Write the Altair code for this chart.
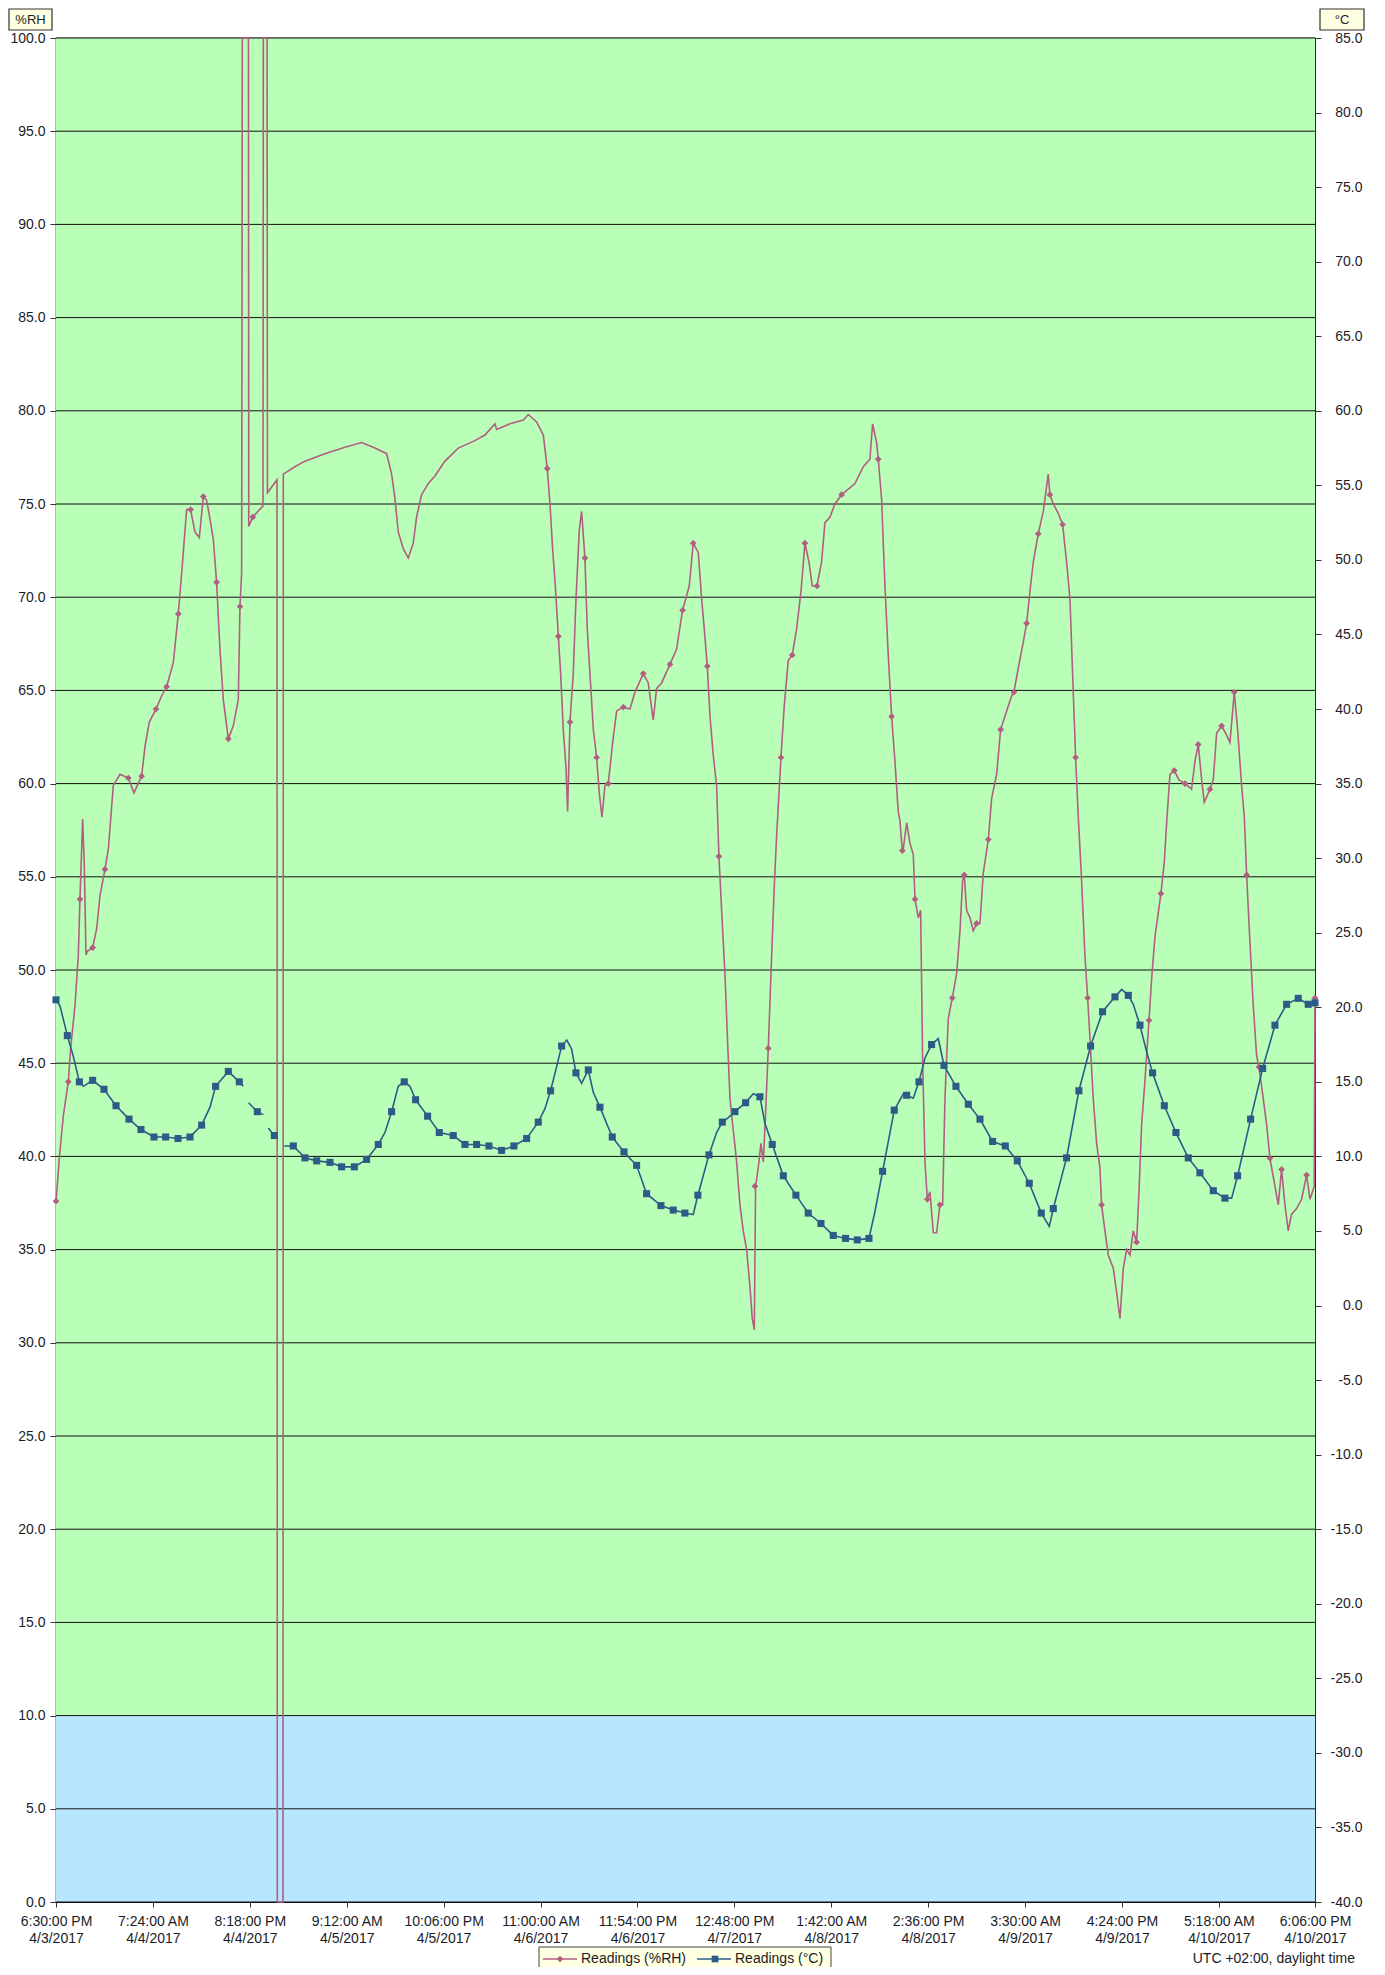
import json
import altair as alt
import pandas as pd

# ---------------- data (hours since 6:30 PM 4/3/2017) ----------------
rh_t = [0.0, 0.18, 0.44, 0.98, 1.64, 1.95, 2.53, 2.97, 3.19, 3.55, 3.77, 3.99, 4.17, 4.88, 5.41, 5.86,
        6.52, 6.97, 7.28, 7.63, 8.52, 9.63, 10.38, 11.40, 11.85, 12.42, 13.31, 14.06, 14.73, 15.62,
        16.28, 16.73, 17.39, 17.92, 18.50, 19.08, 19.61, 20.05, 20.50, 20.94, 21.38, 21.83, 22.27,
        22.94, 23.60, 24.27, 24.49, 24.71, 24.76, 24.80, 25.62, 25.66, 26.20, 27.56, 27.60, 28.10,
        28.15, 29.42, 29.46, 30.22, 30.26, 31.8, 33.14, 35.80, 38.47, 40.68, 42.46, 44.01, 44.68,
        45.12, 45.56, 46.23, 46.90, 47.56, 48.00, 48.67, 49.56, 50.44, 51.78, 53.55, 55.77, 57.10,
        58.43, 58.66, 60.43, 62.21, 62.87, 63.98, 64.87, 65.40, 65.76, 66.11, 66.47, 66.87, 67.18,
        67.53, 67.89, 68.11, 68.42, 68.86, 69.22, 69.66, 69.97, 70.41, 70.72, 71.08, 71.53, 71.97,
        72.32, 72.68, 73.08, 73.52, 74.10, 74.63, 75.52, 76.40, 77.07, 78.18, 78.84, 79.51, 79.95,
        80.62, 81.73, 82.61, 83.41, 84.30, 84.83, 85.50, 85.95, 86.30, 86.70, 87.06, 87.50, 87.94,
        88.25, 88.61, 89.05, 89.41, 89.72, 90.16, 90.61, 91.05, 91.49, 91.94, 92.38, 92.69, 92.96,
        93.13, 93.49, 93.84, 94.16, 94.47, 94.82, 95.18, 95.62, 95.93, 96.51, 96.95, 97.48, 98.01,
        98.59, 99.17, 99.70, 100.23, 100.68, 101.30, 101.92, 102.36, 103.03, 103.69, 104.58, 105.47,
        106.36, 107.47, 108.35, 108.71, 109.24, 109.46, 109.90, 110.35, 110.79, 111.24, 111.68,
        112.12, 112.35, 112.66, 112.79, 113.24, 113.68, 114.12, 114.35, 114.79, 115.10, 115.37,
        115.68, 115.99, 116.34, 116.79, 117.23, 117.67, 118.03, 118.34, 118.78, 119.32, 119.89,
        120.34, 120.69, 120.91, 121.22, 121.67, 122.11, 122.55, 123.00, 123.44, 124.11, 124.55,
        125.22, 125.75, 126.55, 127.21, 127.52, 128.10, 128.77, 129.21, 129.65, 130.10, 130.76,
        131.43, 132.09, 132.31, 132.76, 133.42, 134.00, 134.53, 134.98, 135.42, 135.73, 136.09,
        136.53, 136.97, 137.33, 137.64, 138.08, 138.53, 138.97, 139.19, 139.64, 140.08, 140.75,
        141.19, 141.64, 142.08, 142.52, 142.97, 143.41, 143.85, 144.17, 144.52, 144.97, 145.50,
        145.85, 146.30, 147.09, 147.54, 147.85, 148.29, 148.87, 149.49, 150.29, 151.17, 151.62,
        152.06, 152.51, 152.86, 153.62, 154.06, 154.50, 155.17, 155.83, 156.28, 156.85, 157.30,
        157.83, 158.19, 158.50, 158.94, 159.38, 159.83, 160.14, 160.71, 161.16, 161.60, 162.27,
        162.71, 163.15, 163.60, 164.04, 164.48, 165.15, 165.82, 166.48, 166.93, 167.50, 167.6]
rh_v = [37.6, 38.5, 39.9, 42.2, 44.0, 45.8, 48.1, 50.8, 53.8, 58.1, 55.6, 50.8, 51.0, 51.2, 52.2, 54.0,
        55.4, 56.5, 58.1, 59.9, 60.5, 60.3, 59.5, 60.4, 62.0, 63.3, 64.0, 64.7, 65.2, 66.5,
        69.1, 71.3, 74.7, 74.7, 73.5, 73.2, 75.4, 75.2, 74.2, 73.1, 70.8, 67.2, 64.5,
        62.4, 63.1, 64.5, 69.5, 71.3, 85.0, 100.0, 100.0, 73.8, 74.3, 74.9, 100.0, 100.0,
        75.6, 76.3, 0.0, 0.0, 76.6, 77.0, 77.3, 77.7, 78.05, 78.3, 78.0, 77.7, 76.6,
        75.3, 73.5, 72.6, 72.1, 72.9, 74.3, 75.5, 76.1, 76.5, 77.3, 78.0, 78.4, 78.7,
        79.3, 79.0, 79.3, 79.5, 79.8, 79.4, 78.7, 76.9, 75.0, 72.6, 70.6, 67.9, 65.9,
        62.9, 60.9, 58.5, 63.3, 65.9, 69.9, 73.6, 74.6, 72.1, 68.3, 65.9, 62.9, 61.4,
        59.5, 58.2, 59.9, 60.0, 62.2, 63.9, 64.1, 64.0, 64.9, 65.9, 65.4, 63.4, 65.1,
        65.4, 66.4, 67.2, 69.3, 70.6, 72.9, 72.4, 69.9, 68.3, 66.3, 63.6, 61.5, 59.9,
        56.1, 53.2, 49.8, 46.1, 43.1, 41.4, 39.7, 37.4, 36.0, 35.0, 33.0, 31.3, 30.7,
        38.4, 39.4, 40.7, 39.7, 42.4, 45.8, 49.8, 54.5, 57.2, 61.4, 64.2, 66.6, 66.9,
        68.3, 70.3, 72.9, 71.9, 70.6, 70.6, 71.9, 74.0, 74.3, 75.0, 75.5, 75.8,
        76.1, 77.0, 77.4, 79.3, 78.3, 77.4, 75.3, 70.6, 66.9, 63.6, 61.2,
        58.5, 58.0, 56.4, 56.5, 57.9, 56.8, 56.2, 53.8, 52.8, 53.2, 45.1,
        39.7, 37.7, 38.1, 35.9, 35.9, 37.4, 37.4, 43.1, 47.4, 48.5, 49.8,
        52.1, 54.8, 55.1, 53.2, 52.8, 52.1, 52.5, 52.5, 55.2, 57.0, 59.2,
        60.5, 62.9, 63.9, 64.7, 64.9, 66.2, 67.6, 68.6, 70.3, 71.9, 73.4,
        74.6, 76.6, 75.5, 75.0, 74.5, 73.9, 71.9, 69.9, 64.9, 61.4, 58.2,
        54.8, 50.8, 48.5, 46.4, 43.1, 40.7, 39.4, 37.4, 36.0, 34.7, 34.0,
        32.7, 31.3, 34.0, 35.0, 34.7, 36.0, 35.4, 38.1, 41.7, 44.1, 47.3,
        49.5, 51.8, 54.1, 55.8, 57.9, 60.5, 60.7, 60.2, 60.0, 59.7, 61.2,
        62.1, 60.2, 59.0, 59.7, 60.2, 62.7, 63.1, 62.6, 62.2, 64.9, 62.9,
        59.9, 58.2, 55.1, 51.5, 48.1, 45.4, 44.8, 43.1, 41.7, 39.9, 38.4,
        37.4, 39.3, 37.4, 36.0, 36.9, 37.2, 37.7, 39.0, 37.7, 38.4, 48.5]

rh_mark_t = [0.0, 1.64, 3.19, 4.88, 6.52, 9.63, 11.40, 13.31, 14.73, 16.28, 17.92, 19.61, 21.38, 22.94,
             24.49, 26.20, 65.40, 66.87, 68.42, 70.41, 71.97, 73.52, 75.52, 78.18, 81.73, 83.41,
             84.83, 86.70, 88.25, 93.04, 94.82, 96.51, 98.01, 99.70, 101.30, 104.58, 109.46, 111.24,
             112.66, 114.35, 115.99, 117.67, 119.32, 120.91, 122.55, 124.11, 125.75, 127.52, 129.21,
             130.76, 132.31, 134.00, 135.73, 137.33, 139.19, 143.85, 145.50, 147.09, 148.87, 150.29,
             152.06, 153.62, 155.17, 156.85, 158.50, 160.14, 161.60, 163.15, 166.48, 167.6]
rh_mark_v = [37.6, 44.0, 53.8, 51.2, 55.4, 60.3, 60.4, 64.0, 65.2, 69.1, 74.7, 75.4, 70.8, 62.4,
             69.5, 74.3, 76.9, 67.9, 63.3, 72.1, 61.4, 60.0, 64.1, 65.9, 66.4, 69.3,
             72.9, 66.3, 56.1, 38.4, 45.8, 61.4, 66.9, 72.9, 70.6, 75.5, 77.4, 63.6,
             56.4, 53.8, 37.7, 37.4, 48.5, 55.1, 52.5, 57.0, 62.9, 64.9, 68.6,
             73.4, 75.5, 73.9, 61.4, 48.5, 37.4, 35.4, 47.3, 54.1, 60.7, 60.0,
             62.1, 59.7, 63.1, 64.9, 55.1, 44.8, 39.9, 39.3, 39.0, 48.5]

temp_t = [0.0, 0.53, 1.51, 2.31, 3.11, 3.64, 4.88, 6.39, 7.99, 9.72, 11.31, 13.04, 14.60, 16.24, 17.84,
          19.39, 20.50, 21.25, 22.94, 24.40, 24.93,
          25.64, 26.80, 27.60,
          28.26, 29.06, 29.37,
          30.39, 31.59, 33.14, 34.70, 36.47, 38.02, 39.71, 41.35, 42.90, 43.79, 44.68, 45.56, 46.36,
          47.12, 47.87, 49.47, 51.02, 52.88, 54.44, 55.99, 57.63, 59.32, 60.96, 62.65, 64.20, 65.09,
          65.84, 66.64, 67.31, 68.00, 68.64, 69.22, 69.97, 70.86, 71.52, 72.41, 74.05, 75.61, 77.29,
          78.62, 80.53, 82.17, 83.72, 84.83, 85.45, 86.92, 87.94, 88.70, 89.50, 90.38, 91.80, 92.82,
          93.71, 94.38, 95.35, 96.82, 98.50, 100.14, 101.83, 103.47, 105.11, 106.67, 108.22, 109.02,
          110.04, 111.59, 112.79, 113.24, 114.12, 114.88, 115.68, 116.56, 117.45, 118.21, 119.80,
          121.45, 123.00, 124.68, 126.37, 127.97, 129.56, 131.16, 132.23, 132.76, 134.53, 136.17,
          137.73, 139.32, 140.97, 141.86, 142.75, 143.41, 144.30, 145.19, 145.98, 147.54, 149.09,
          150.73, 152.28, 154.06, 155.61, 156.50, 157.30, 159.03, 160.63, 162.27, 163.82, 165.37,
          166.70, 167.6]
temp_v = [20.5, 20.1, 18.1, 16.7, 15.0, 14.7, 15.1, 14.5, 13.4, 12.5, 11.8, 11.3, 11.3, 11.2, 11.3,
          12.1, 13.3, 14.7, 15.7, 15.0, 14.7,
          13.6, 13.0, 12.8,
          11.9, 11.4, 11.3,
          10.7, 10.7, 9.9, 9.7, 9.6, 9.3, 9.3, 9.8, 10.8, 11.6, 13.0, 14.7, 15.0,
          14.7, 13.8, 12.7, 11.6, 11.4, 10.8, 10.8, 10.7, 10.4, 10.7, 11.2, 12.3, 13.2,
          14.4, 16.0, 17.4, 17.8, 17.2, 15.6, 14.9, 15.8, 14.3, 13.3, 11.3, 10.3, 9.4,
          7.5, 6.7, 6.4, 6.2, 6.1, 7.4, 10.1, 11.6, 12.3, 12.6, 13.0, 13.6, 14.2,
          14.0, 12.2, 10.8, 8.7, 7.4, 6.2, 5.5, 4.7, 4.5, 4.4, 4.5, 6.3,
          9.0, 13.1, 14.2, 14.1, 13.9, 15.0, 16.6, 17.5, 17.9, 16.1, 14.7,
          13.5, 12.5, 11.0, 10.7, 9.7, 8.2, 6.2, 5.3, 6.5, 9.9, 14.4,
          17.4, 19.7, 20.7, 21.2, 20.8, 20.2, 18.8, 17.0, 15.6, 13.4, 11.6,
          9.9, 8.9, 7.7, 7.2, 7.2, 8.7, 12.5, 15.9, 18.8, 20.2, 20.6,
          20.2, 20.3]
temp_seg = [0] * 21 + [1] * 3 + [2] * 3 + [3] * (len(temp_t) - 27)
temp_mark = [1, 0, 1, 0, 1, 0, 1, 1, 1, 1, 1, 1, 1, 1, 1,
             1, 0, 1, 1, 1, 0,
             0, 1, 0,
             0, 1, 0,
             0, 1, 1, 1, 1, 1, 1, 1, 1, 0, 1, 0, 1,
             0, 1, 1, 1, 1, 1, 1, 1, 1, 1, 1, 1, 0,
             1, 0, 1, 0, 0, 1, 0, 1, 0, 1, 1, 1, 1,
             1, 1, 1, 1, 0, 1, 1, 0, 1, 0, 1, 1, 0,
             1, 0, 1, 1, 1, 1, 1, 1, 1, 1, 1, 0,
             1, 1, 0, 1, 0, 1, 0, 1, 0, 1, 1,
             1, 1, 1, 1, 1, 1, 1, 0, 1, 1, 1,
             1, 1, 1, 0, 1, 0, 1, 0, 1, 1, 1,
             1, 1, 1, 1, 0, 1, 1, 1, 1, 1, 1,
             1, 1]

x_tick_values = [0, 12.9, 25.8, 38.7, 51.6, 64.5, 77.4, 90.3, 103.2, 116.1, 129.0, 141.9, 154.8, 167.6]
x_tick_labels = [["6:30:00 PM", "4/3/2017"], ["7:24:00 AM", "4/4/2017"], ["8:18:00 PM", "4/4/2017"],
                 ["9:12:00 AM", "4/5/2017"], ["10:06:00 PM", "4/5/2017"], ["11:00:00 AM", "4/6/2017"],
                 ["11:54:00 PM", "4/6/2017"], ["12:48:00 PM", "4/7/2017"], ["1:42:00 AM", "4/8/2017"],
                 ["2:36:00 PM", "4/8/2017"], ["3:30:00 AM", "4/9/2017"], ["4:24:00 PM", "4/9/2017"],
                 ["5:18:00 AM", "4/10/2017"], ["6:06:00 PM", "4/10/2017"]]
rh_ticks = [0, 5, 10, 15, 20, 25, 30, 35, 40, 45, 50, 55, 60, 65, 70, 75, 80, 85, 90, 95, 100]
t_ticks = [-40, -35, -30, -25, -20, -15, -10, -5, 0, 5, 10, 15, 20, 25, 30, 35, 40, 45, 50, 55, 60,
           65, 70, 75, 80, 85]
band_lo = [10, 0]
band_hi = [100, 10]
band_color = ["#B9FFB7", "#B8E6FF"]

left_title = "%RH"
right_title = "°C"
legend_labels = ["Readings (%RH)", "Readings (°C)"]
tz_note = "UTC +02:00, daylight time"

# ---------------- styling ----------------
W, H = 1259, 1864
RH_COLOR = "#B25E80"
T_COLOR = "#2D5B88"
FONT = "Liberation Sans"
TXT = "#1c1c28"
LEG_Y = 1921

rh_df = pd.DataFrame({"t": rh_t, "rh": rh_v})
rhm_df = pd.DataFrame({"t": rh_mark_t, "rh": rh_mark_v})
t_df = pd.DataFrame({"t": temp_t, "temp": temp_v, "seg": temp_seg, "mark": temp_mark})
band_df = pd.DataFrame({"lo": band_lo, "hi": band_hi, "c": band_color})
grid_df = pd.DataFrame({"v": rh_ticks})
one = pd.DataFrame({"a": [0]})

label_expr = "%s[indexof(%s, datum.value)]" % (json.dumps(x_tick_labels), json.dumps(x_tick_values))
x_axis = alt.Axis(values=x_tick_values, labelExpr=label_expr, title=None, grid=False, domain=False,
                  tickSize=5, tickColor="#333", labelFlush=False, labelOverlap=False, labelBound=False,
                  labelPadding=7, labelLineHeight=17, labelFontSize=14, labelFont=FONT, labelColor=TXT)
x_enc = alt.X("t:Q", scale=alt.Scale(domain=[0, 167.6], nice=False, zero=False), axis=x_axis)

rh_scale = alt.Scale(domain=[0, 100], nice=False, zero=False)
rh_axis = alt.Axis(values=rh_ticks, format=".1f", title=None, grid=False, domain=False, tickSize=6,
                   tickColor="#333", labelPadding=5, labelOverlap=False, labelFontSize=14,
                   labelFont=FONT, labelColor=TXT)
t_scale = alt.Scale(domain=[-40, 85], nice=False, zero=False)
t_axis = alt.Axis(orient="right", values=t_ticks, title=None, grid=False, domain=False,
                  labelExpr="(datum.value < 0 ? '-' : '') + format(abs(datum.value), '.1f')",
                  tickSize=6, tickColor="#333", labelAlign="right", labelPadding=41, labelOverlap=False,
                  labelFontSize=14, labelFont=FONT, labelColor=TXT)

bg = alt.Chart(band_df).mark_rect().encode(
    x=alt.value(0), x2=alt.value(W),
    y=alt.Y("lo:Q", scale=rh_scale, axis=rh_axis), y2="hi:Q",
    color=alt.Color("c:N", scale=None))

grid = alt.Chart(grid_df).mark_rule(color="#111", strokeWidth=1).encode(
    y=alt.Y("v:Q", scale=rh_scale, axis=rh_axis))

rh_line = alt.Chart(rh_df).mark_line(color=RH_COLOR, strokeWidth=1.6, interpolate="linear").encode(
    x=x_enc, y=alt.Y("rh:Q", scale=rh_scale, axis=rh_axis))
rh_pts = alt.Chart(rhm_df).mark_point(shape="diamond", filled=True, size=45, color=RH_COLOR,
                                      opacity=1).encode(
    x=x_enc, y=alt.Y("rh:Q", scale=rh_scale, axis=rh_axis))

# decorations: axis title boxes, legend, time-zone note
box_l = alt.Chart(one).mark_rect(fill="#FFFFE1", stroke="#333", strokeWidth=1.2).encode(
    x=alt.value(-47), x2=alt.value(-4), y=alt.value(-29), y2=alt.value(-8))
box_l_t = alt.Chart(one).mark_text(font=FONT, fontSize=13, color=TXT).encode(
    x=alt.value(-25.5), y=alt.value(-18.5), text=alt.value(left_title))
box_r = alt.Chart(one).mark_rect(fill="#FFFFE1", stroke="#333", strokeWidth=1.2).encode(
    x=alt.value(1264), x2=alt.value(1308), y=alt.value(-29), y2=alt.value(-8))
box_r_t = alt.Chart(one).mark_text(font=FONT, fontSize=13, color=TXT).encode(
    x=alt.value(1286), y=alt.value(-18.5), text=alt.value(right_title))

leg_box = alt.Chart(one).mark_rect(fill="#FFFFE1", stroke="#444", strokeWidth=1).encode(
    x=alt.value(483), x2=alt.value(775), y=alt.value(LEG_Y - 12), y2=alt.value(LEG_Y + 12))
leg_l1 = alt.Chart(one).mark_rule(color=RH_COLOR, strokeWidth=1.6).encode(
    x=alt.value(487), x2=alt.value(521), y=alt.value(LEG_Y))
leg_p1 = alt.Chart(one).mark_point(shape="diamond", filled=True, size=45, color=RH_COLOR, opacity=1).encode(
    x=alt.value(504), y=alt.value(LEG_Y))
leg_t1 = alt.Chart(one).mark_text(font=FONT, fontSize=14, color=TXT, align="left", baseline="middle").encode(
    x=alt.value(525), y=alt.value(LEG_Y), text=alt.value(legend_labels[0]))
leg_l2 = alt.Chart(one).mark_rule(color=T_COLOR, strokeWidth=1.6).encode(
    x=alt.value(641), x2=alt.value(675), y=alt.value(LEG_Y))
leg_p2 = alt.Chart(one).mark_point(shape="square", filled=True, size=45, color=T_COLOR, opacity=1).encode(
    x=alt.value(659), y=alt.value(LEG_Y))
leg_t2 = alt.Chart(one).mark_text(font=FONT, fontSize=14, color=TXT, align="left", baseline="middle").encode(
    x=alt.value(679), y=alt.value(LEG_Y), text=alt.value(legend_labels[1]))
tz = alt.Chart(one).mark_text(font=FONT, fontSize=14, color=TXT, align="right", baseline="middle").encode(
    x=alt.value(1299), y=alt.value(LEG_Y), text=alt.value(tz_note))

rh_group = alt.layer(bg, grid, rh_line, rh_pts, box_l, box_l_t, box_r, box_r_t,
                     leg_box, leg_l1, leg_p1, leg_t1, leg_l2, leg_p2, leg_t2, tz)

t_line = alt.Chart(t_df).mark_line(color=T_COLOR, strokeWidth=1.6).encode(
    x=x_enc, y=alt.Y("temp:Q", scale=t_scale, axis=t_axis), detail="seg:N")
t_pts = alt.Chart(t_df).transform_filter("datum.mark == 1").mark_point(
    shape="square", filled=True, size=50, color=T_COLOR, opacity=1).encode(
    x=x_enc, y=alt.Y("temp:Q", scale=t_scale, axis=t_axis))
t_group = alt.layer(t_line, t_pts)

chart = alt.layer(rh_group, t_group).resolve_scale(y="independent").properties(
    width=W, height=H,
    autosize=alt.AutoSizeParams(type="none"),
    padding={"left": 48, "top": 30, "right": 62, "bottom": 65},
).configure_view(stroke="#111", strokeWidth=1.2)

chart.save("out.html", embed_options={"renderer": "svg", "actions": False})
